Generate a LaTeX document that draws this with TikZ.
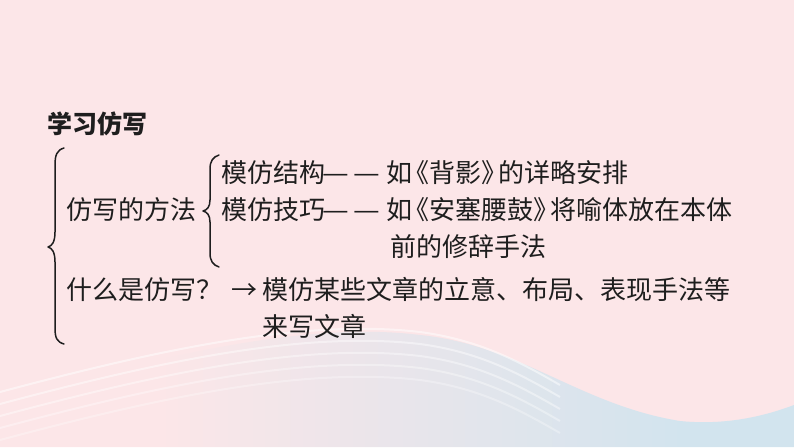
\documentclass[tikz,border=0pt]{standalone}
\usepackage{fontspec}
\usepackage{graphicx}
\newfontfamily\cjk{Noto Sans CJK SC}
\definecolor{bgpink}{HTML}{FCE6E8}
\definecolor{wavblue}{HTML}{D2E4EE}
\definecolor{ink}{HTML}{1E1E1E}
\pgfdeclarehorizontalshading{waveshade}{100bp}{color(0bp)=(bgpink); color(35bp)=(bgpink); color(68bp)=(wavblue); color(100bp)=(wavblue)}
\newcommand{\ldash}{\scalebox{1.15}[1]{—}}
\tikzset{
  txt/.style={anchor=base west, inner sep=0pt, text=ink, font=\cjk\fontsize{26}{30}\selectfont},
  ttl/.style={anchor=base west, inner sep=0pt, text=ink, font=\cjk\bfseries\fontsize{25}{30}\selectfont},
  bracestroke/.style={draw=ink, line width=1.5pt, line cap=round, line join=round},
}
\begin{document}
\begin{tikzpicture}[x=1pt,y=-1pt]
\useasboundingbox (0,0) rectangle (794,447);
\fill[bgpink] (0,0) rectangle (794,447);
% wave
\shade[shading=waveshade]
  (0,447) -- (0,400) .. controls (150,360) and (300,320) .. (420,335)
  .. controls (520,345) and (580,405) .. (680,421)
  .. controls (730,426) and (770,414) .. (794,405) -- (794,447) -- cycle;
\foreach \dy/\op in {0/0.5,12/0.45,24/0.4,36/0.35,48/0.3}{
  \draw[white, opacity=\op, line width=2pt]
    (0,392+\dy) .. controls (150,352+\dy) and (300,318+\dy) .. (420,332+\dy)
    .. controls (480,340+\dy) and (520,362+\dy) .. (560,385+\dy);
}
% title
\node[ttl] (title) at (47,133) {学习仿写};
% big brace
\draw[bracestroke] (64,148) .. controls (57,150) and (55,155) .. (55,165)
  -- (55,232) .. controls (55,242) and (52,246) .. (48,247)
  .. controls (52,248) and (55,252) .. (55,262)
  -- (55,328) .. controls (55,338) and (57,342) .. (64,344);
% small brace
\draw[bracestroke] (219,155) .. controls (213,157) and (210,161) .. (210,169)
  -- (210,200) .. controls (210,207) and (207,210) .. (203,211)
  .. controls (207,212) and (210,215) .. (210,222)
  -- (210,253) .. controls (210,261) and (213,265) .. (219,267);
% texts
\node[txt] (method) at (66,219.5) {仿写的方法};
\node[txt] (s1a) at (221,182.5) {模仿结构\hspace{-3pt}\ldash\hspace{5pt}\ldash};
\node[txt] (s1b) at (386,182.5) {如\kern-9pt《背影》\kern-9pt的详略安排};
\node[txt] (s2a) at (221,219.5) {模仿技巧\hspace{-3pt}\ldash\hspace{5pt}\ldash};
\node[txt] (s2b) at (386,219.5) {如\kern-9pt《安塞腰鼓》\kern-9pt将喻体放在本体};
\node[txt] (s3) at (390,256.5) {前的修辞手法};
\node[txt] (q) at (66,299.5) {什么是仿写？};
\node[txt] (arr) at (231,299.5) {→};
\node[txt] (a1) at (262,299.5) {模仿某些文章的立意、布局、表现手法等};
\node[txt] (a2) at (262,336.5) {来写文章};
\end{tikzpicture}
\end{document}
